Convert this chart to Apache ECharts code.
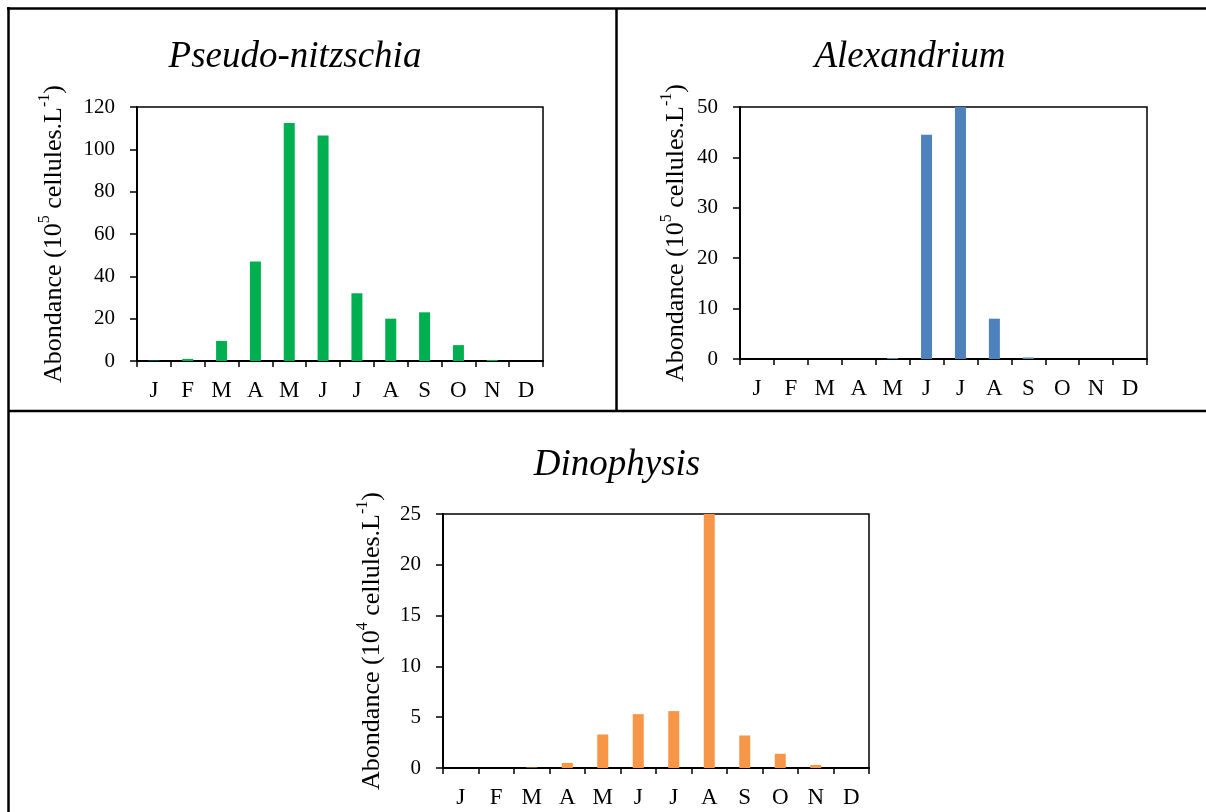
<!DOCTYPE html>
<html>
<head>
<meta charset="utf-8">
<script src="https://cdn.jsdelivr.net/npm/echarts@6/dist/echarts.min.js"></script>
<style>
html,body{margin:0;padding:0;background:#fff;}
#chart{width:1206px;height:812px;}
</style>
</head>
<body>
<div id="chart"></div>
<script>
const months = ['J','F','M','A','M','J','J','A','S','O','N','D'];
const pseudoNitzschia = [0.2, 1, 9.5, 47, 112.5, 106.5, 32, 20, 23, 7.5, 0.5, 0];
const alexandrium = [0, 0, 0, 0, 0.2, 44.5, 50, 8, 0.3, 0, 0, 0];
const dinophysis = [0, 0, 0.05, 0.5, 3.3, 5.3, 5.6, 25, 3.2, 1.4, 0.3, 0];
const titles = ['Pseudo-nitzschia', 'Alexandrium', 'Dinophysis'];
const yMax = [120, 50, 25];
const yInterval = [20, 10, 5];
const powers = ['5', '5', '4'];
const colors = ['#00B050', '#4F81BD', '#F79646'];

const FONT = '"Liberation Serif", "Times New Roman", serif';
const grids = [
  {left: 137, top: 107, width: 406, height: 254},
  {left: 740, top: 107, width: 407, height: 252},
  {left: 443, top: 514, width: 426, height: 254}
];
const titlePos = [[290, 34], [905, 34], [612, 442]];
const nameGaps = [70, 51, 58];
const seriesData = [pseudoNitzschia, alexandrium, dinophysis];

const chart = echarts.init(document.getElementById('chart'), null, {renderer: 'canvas'});

const option = {
  backgroundColor: '#fff',
  animation: false,
  title: titles.map((t, i) => ({
    text: t,
    left: titlePos[i][0],
    top: titlePos[i][1],
    textAlign: 'center',
    textStyle: {fontFamily: FONT, fontStyle: 'italic', fontWeight: 'normal', fontSize: 37, color: '#000'}
  })),
  grid: grids.map(g => Object.assign({show: true, borderColor: '#000', borderWidth: 1.5, backgroundColor: '#fff'}, g)),
  xAxis: grids.map((g, i) => ({
    type: 'category',
    gridIndex: i,
    data: months,
    axisLine: {lineStyle: {color: '#000', width: 2}},
    axisTick: {show: true, alignWithLabel: false, length: 6, lineStyle: {color: '#000', width: 1.5}},
    axisLabel: {fontFamily: FONT, fontSize: 23, color: '#000', margin: 18, interval: 0}
  })),
  yAxis: grids.map((g, i) => ({
    type: 'value',
    gridIndex: i,
    min: 0,
    max: yMax[i],
    interval: yInterval[i],
    splitLine: {show: false},
    axisLine: {show: true, lineStyle: {color: '#000', width: 2}},
    axisTick: {show: true, length: 7, lineStyle: {color: '#000', width: 1.5}},
    axisLabel: {fontFamily: FONT, fontSize: 21, color: '#000', margin: 22},
    name: '{a|Abondance (10}{s|' + powers[i] + '}{a| cellules.L}{s|-1}{a|)}',
    nameLocation: 'middle',
    nameRotate: 90,
    nameGap: nameGaps[i],
    nameTextStyle: {
      fontFamily: FONT, fontSize: 26, color: '#000',
      rich: {
        a: {fontFamily: FONT, fontSize: 26, color: '#000', lineHeight: 30, verticalAlign: 'bottom'},
        s: {fontFamily: FONT, fontSize: 16, color: '#000', lineHeight: 30, verticalAlign: 'top'}
      }
    }
  })),
  series: seriesData.map((d, i) => ({
    type: 'bar',
    xAxisIndex: i,
    yAxisIndex: i,
    data: d,
    barWidth: 11,
    itemStyle: {color: colors[i]},
    emphasis: {disabled: true}
  })),
  graphic: [
    {type: 'line', shape: {x1: 7, y1: 8.5, x2: 1206, y2: 8.5}, style: {stroke: '#000', lineWidth: 2.5}, z: 100},
    {type: 'line', shape: {x1: 8.5, y1: 7, x2: 8.5, y2: 812}, style: {stroke: '#000', lineWidth: 2.5}, z: 100},
    {type: 'line', shape: {x1: 616.5, y1: 8, x2: 616.5, y2: 411}, style: {stroke: '#000', lineWidth: 2.5}, z: 100},
    {type: 'line', shape: {x1: 8, y1: 411, x2: 1206, y2: 411}, style: {stroke: '#000', lineWidth: 2.5}, z: 100}
  ]
};
chart.setOption(option);
</script>
</body>
</html>
